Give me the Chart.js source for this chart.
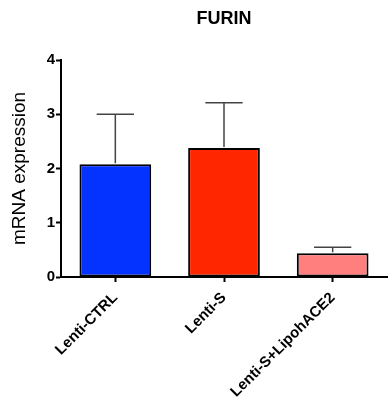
<!DOCTYPE html>
<html>
<head>
<meta charset="utf-8">
<script src="https://cdn.jsdelivr.net/npm/chart.js@4"></script>
<style>
  html, body { margin: 0; padding: 0; background: #fff; }
</style>
</head>
<body>
<canvas id="furinChart" width="392" height="414"></canvas>
<script>
const groups = ['Lenti-CTRL', 'Lenti-S', 'Lenti-S+LipohACE2'];
const means = [2.08, 2.38, 0.44];
const errors = [0.92, 0.83, 0.11];
const barColors = ['#0433ff', '#ff2600', '#ff7f7f'];
const yTicks = [0, 1, 2, 3, 4];

const fontFamily = '"Liberation Sans", Arial, Helvetica, sans-serif';

// error bars drawn upward only, from the top of each bar
const errorBars = {
  id: 'errorBars',
  afterDatasetsDraw(chart) {
    const ctx = chart.ctx;
    const yScale = chart.scales.y;
    const meta = chart.getDatasetMeta(0);
    ctx.save();
    ctx.strokeStyle = '#444';
    ctx.lineWidth = 1.5;
    meta.data.forEach((bar, i) => {
      const top = yScale.getPixelForValue(means[i] + errors[i]);
      const half = bar.width * 0.26;
      ctx.beginPath();
      ctx.moveTo(bar.x, bar.y - 1);
      ctx.lineTo(bar.x, top);
      ctx.moveTo(bar.x - half, top);
      ctx.lineTo(bar.x + half, top);
      ctx.stroke();
    });
    ctx.restore();
  }
};

const ctxFurin = document.getElementById('furinChart').getContext('2d');
new Chart(ctxFurin, {
  type: 'bar',
  data: {
    labels: groups,
    datasets: [{
      data: means,
      backgroundColor: barColors,
      borderColor: '#000',
      borderWidth: 2,
      borderSkipped: false,
      categoryPercentage: 1,
      barPercentage: 0.66
    }]
  },
  options: {
    responsive: false,
    animation: false,
    layout: { padding: { left: 0, right: 5, top: 0, bottom: 0 } },
    plugins: {
      legend: { display: false },
      tooltip: { enabled: false },
      title: {
        display: true,
        text: 'FURIN',
        fullSize: false,
        color: '#000',
        font: { family: fontFamily, size: 18, weight: 'bold' },
        padding: { top: 8, bottom: 30.4 }
      }
    },
    scales: {
      x: {
        grid: {
          offset: false,
          drawOnChartArea: false,
          color: '#000',
          tickLength: 5,
          tickWidth: 2
        },
        border: { color: '#000', width: 2 },
        ticks: {
          color: '#000',
          autoSkip: false,
          maxRotation: 45,
          minRotation: 45,
          padding: 7,
          font: { family: fontFamily, size: 15, weight: 'bold' }
        },
        afterFit(scale) { scale.height = 137; }
      },
      y: {
        min: 0,
        max: 4,
        afterBuildTicks(scale) { scale.ticks = yTicks.map(v => ({ value: v })); },
        grid: {
          drawOnChartArea: false,
          color: '#000',
          tickLength: 5,
          tickWidth: 2
        },
        border: { color: '#000', width: 2 },
        ticks: {
          color: '#000',
          padding: 1,
          font: { family: fontFamily, size: 15, weight: 'bold' }
        },
        title: {
          display: true,
          text: 'mRNA expression',
          color: '#000',
          font: { family: fontFamily, size: 19 },
          padding: { top: 8, bottom: 4 }
        },
        afterFit(scale) { scale.width = 61; }
      }
    }
  },
  plugins: [errorBars]
});
</script>
</body>
</html>
